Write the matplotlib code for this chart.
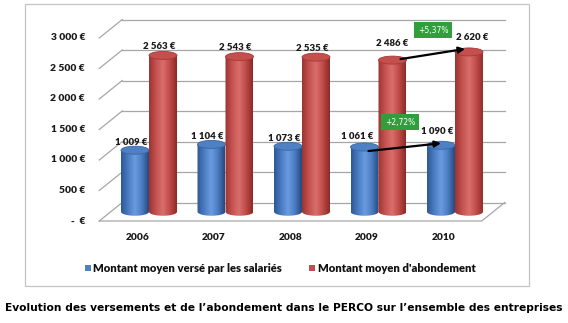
import numpy as np
import matplotlib.pyplot as plt
from matplotlib.patches import Ellipse, PathPatch, Rectangle
from matplotlib.path import Path
from matplotlib.colors import LinearSegmentedColormap

# ------------------------------------------------------------------
# data
# ------------------------------------------------------------------
years = ['2006', '2007', '2008', '2009', '2010']
verse = [1009, 1104, 1073, 1061, 1090]
abond = [2563, 2543, 2535, 2486, 2620]
verse_labels = ['1 009 €', '1 104 €', '1 073 €', '1 061 €', '1 090 €']
abond_labels = ['2 563 €', '2 543 €', '2 535 €', '2 486 €', '2 620 €']
yticks = [0, 500, 1000, 1500, 2000, 2500, 3000]
ytick_labels = ['-  €', '500 €', '1 000 €', '1 500 €', '2 000 €', '2 500 €', '3 000 €']
series_names = ['Montant moyen versé par les salariés', "Montant moyen d'abondement"]
growth_verse = '+2,72%'
growth_abond = '+5,37%'
caption = "Evolution des versements et de l\u2019abondement dans le PERCO sur l\u2019ensemble des entreprises"

# ------------------------------------------------------------------
# geometry (pixels of the 568x323 picture)
# ------------------------------------------------------------------
W, H = 568, 323
PX_CAT = 76.5     # px per category
X0 = 137.5        # px of first category (front plane)
Y0 = 221          # px of 0 € (front plane)
PX_EUR = 0.061    # px per euro

DX = 23 / PX_CAT          # depth offset in category units
DY = 18.5 / PX_EUR        # depth offset in euros
BW = 28 / PX_CAT          # cylinder width
EH = 8 / PX_EUR           # ellipse height

# label offsets in px (dx, dy above cylinder top)
verse_off = [(-4, 7.5), (-4, 7.7), (-4, 7.5), (-7, 11), (-4, 13.5)]
abond_off = [(-4, 8.7), (-4, 8.7), (-4, 8.7), (0, 17), (3.5, 14)]

LBL = 'Lato'
WT = 'heavy'
GRID = '#a6a6a6'

fig = plt.figure(figsize=(W / 100, H / 100), dpi=100)
ax = fig.add_axes([0, 0, 1, 1])
ax.set_xlim(-X0 / PX_CAT, (W - X0) / PX_CAT)
ax.set_ylim((Y0 - H) / PX_EUR, Y0 / PX_EUR)
ax.set_autoscale_on(False)
ax.axis('off')

n = len(years)
xl, xr = -0.5, n - 0.5

# back wall gridlines + left wall slants
for v, lab in zip(yticks, ytick_labels):
    ax.plot([xl, xl + DX], [v, v + DY], color=GRID, lw=0.9, zorder=1)
    ax.plot([xl + DX, xr + DX], [v + DY, v + DY], color=GRID, lw=0.9, zorder=1)
    ax.text(xl - 14 / PX_CAT, v, lab, ha='right', va='center', fontsize=7.4,
            fontweight=WT, family=LBL, color='#1a1a1a')
# floor
ax.plot([xl, xr, xr + DX], [0, 0, DY], color=GRID, lw=0.9, zorder=1)

# year labels
for i, y in enumerate(years):
    ax.text(i, -17 / PX_EUR, y, ha='center', va='center', fontsize=7.3,
            fontweight=WT, family=LBL, color='#1a1a1a')

blue_cmap = LinearSegmentedColormap.from_list(
    'b', ['#2d5893', '#4a7cc2', '#6b9be0', '#4b7dc3', '#27497c'])
red_cmap = LinearSegmentedColormap.from_list(
    'r', ['#9c3431', '#c45250', '#d96f6b', '#c04b48', '#8a2a28'])


def cylinder(xc, v, cmap, top_fc, top_ec, z):
    b = DY / 2
    t = b + v
    th = np.linspace(np.pi, 2 * np.pi, 40)
    verts = [(xc - BW / 2, t)]
    verts += list(zip(xc + BW / 2 * np.cos(th), b + EH / 2 * np.sin(th)))
    verts += [(xc + BW / 2, t), (xc - BW / 2, t)]
    clip = PathPatch(Path(verts), facecolor='none', edgecolor='none')
    ax.add_patch(clip)
    grad = np.linspace(0, 1, 64).reshape(1, -1)
    im = ax.imshow(grad, cmap=cmap, extent=(xc - BW / 2, xc + BW / 2, b - EH / 2, t),
                   aspect='auto', interpolation='bicubic', zorder=z)
    im.set_clip_path(clip)
    ax.add_patch(Ellipse((xc, t), BW, EH, facecolor=top_fc, edgecolor=top_ec,
                         lw=0.6, zorder=z + 0.1))
    return t


tops_v, tops_a = [], []
for i in range(n):
    xb = i + DX / 2 - BW / 2
    xa = i + DX / 2 + BW / 2
    tb = cylinder(xb, verse[i], blue_cmap, '#4f80c4', '#3a66a3', 3)
    ta = cylinder(xa, abond[i], red_cmap, '#c44f4c', '#a63a38', 4)
    tops_v.append((xb, tb))
    tops_a.append((xa, ta))
    dx, dy = verse_off[i]
    ax.text(xb + dx / PX_CAT, tb + dy / PX_EUR, verse_labels[i], ha='center', va='center',
            fontsize=6.9, fontweight=WT, family=LBL, color='#1a1a1a', zorder=6)
    dx, dy = abond_off[i]
    ax.text(xa + dx / PX_CAT, ta + dy / PX_EUR, abond_labels[i], ha='center', va='center',
            fontsize=6.9, fontweight=WT, family=LBL, color='#1a1a1a', zorder=6)

# growth arrows 2009 -> 2010
(x9, t9), (x10, t10) = tops_v[3], tops_v[4]
ax.annotate('', xy=(x10, t10 + 2 / PX_EUR), xytext=(x9 + 4 / PX_CAT, t9 - 4 / PX_EUR),
            arrowprops=dict(arrowstyle='-|>', color='black', lw=1.6, mutation_scale=9,
                            shrinkA=0, shrinkB=0), zorder=8)
ax.text(x10 - 41 / PX_CAT, t10 + 23 / PX_EUR, growth_verse, ha='center', va='center',
        fontsize=5.5, color='white', family='DejaVu Sans', zorder=8,
        bbox=dict(boxstyle='square,pad=0.45', facecolor='#2f9e3b', edgecolor='none'))

(x9, t9), (x10, t10) = tops_a[3], tops_a[4]
ax.annotate('', xy=(x10 - 4 / PX_CAT, t10 + 3 / PX_EUR), xytext=(x9 + 8 / PX_CAT, t9 + 1 / PX_EUR),
            arrowprops=dict(arrowstyle='-|>', color='black', lw=1.6, mutation_scale=9,
                            shrinkA=0, shrinkB=0), zorder=8)
ax.text(x10 - 36 / PX_CAT, t10 + 21.5 / PX_EUR, growth_abond, ha='center', va='center',
        fontsize=5.5, color='white', family='DejaVu Sans', zorder=8,
        bbox=dict(boxstyle='square,pad=0.45', facecolor='#2f9e3b', edgecolor='none'))

# legend
for x_sq, x_txt, col, name in [(85, 93, '#4f81bd', series_names[0]),
                                (309, 318, '#c0504d', series_names[1])]:
    fig.patches.append(Rectangle((x_sq / W, 1 - 271 / H), 6 / W, 6 / H, transform=fig.transFigure,
                                 facecolor=col, edgecolor='none'))
    fig.text(x_txt / W, 1 - 268 / H, name, ha='left', va='center', fontsize=8.1,
             fontweight=WT, family=LBL, color='#111111')

# outer frame
fig.patches.append(Rectangle((25 / W, 1 - 286 / H), 504 / W, 282 / H, transform=fig.transFigure,
                             facecolor='none', edgecolor='#c3c3c3', lw=0.9))

fig.text(0.5 * (5 + 562) / W, 1 - 308 / H, caption, ha='center', va='center', fontsize=7.65,
         fontweight='bold', family='DejaVu Sans', color='black')

fig.savefig('out.png', dpi=100)
